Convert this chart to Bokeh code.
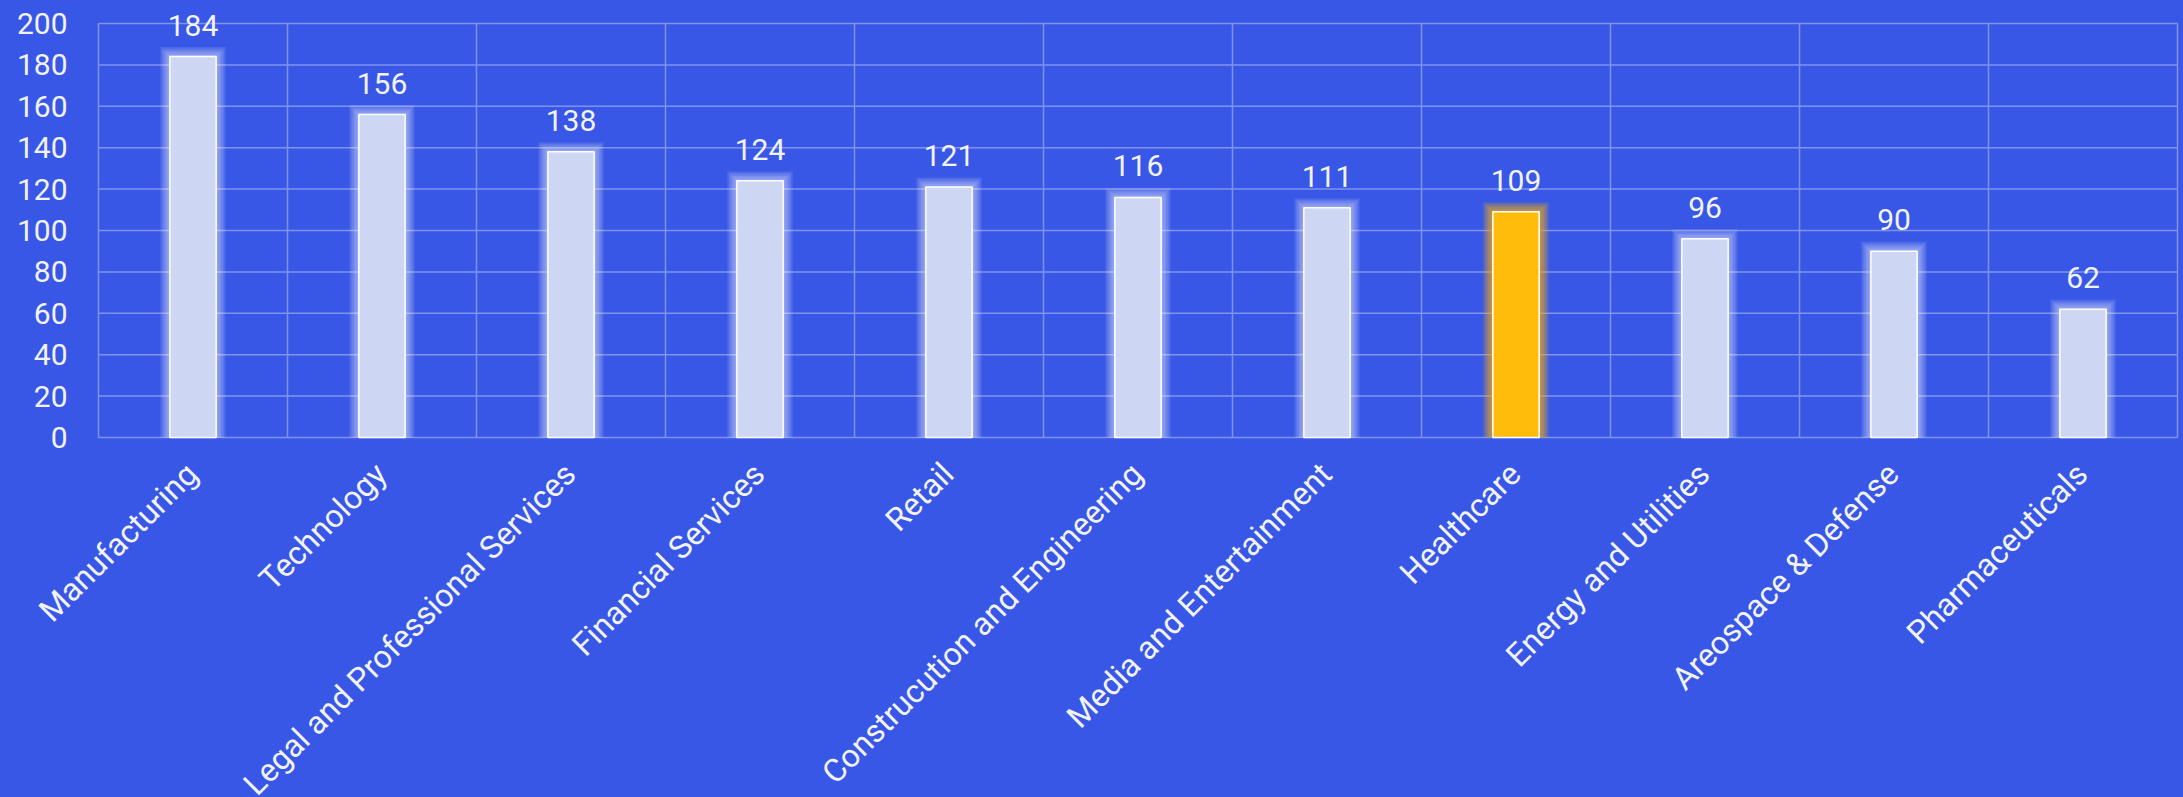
import numpy as np
from bokeh.plotting import figure
from bokeh.models import ColumnDataSource, Range1d, LabelSet
from bokeh.core.properties import value
from bokeh.embed import file_html
from bokeh.resources import INLINE

categories = ["Manufacturing", "Technology", "Legal and Professional Services",
              "Financial Services", "Retail", "Construcution and Engineering",
              "Media and Entertainment", "Healthcare", "Energy and Utilities",
              "Areospace & Defense", "Pharmaceuticals"]
values = [184, 156, 138, 124, 121, 116, 111, 109, 96, 90, 62]
highlight = "Healthcare"
y_ticks = [0, 20, 40, 60, 80, 100, 120, 140, 160, 180, 200]

BG = "#3857E6"
GRID = "#7F93EE"
BAR = "#CDD6F3"
HI = "#FFBC0A"
TXT = "#F2F3FA"
FONT = "Roboto"

# layout (pixels)
W, H = 2183, 797
LEFT, RIGHT = 98, 2177          # plot area left / right edge
Y_TOP, Y_ZERO = 23, 437         # pixel rows of the top tick and of zero
BAR_W = 0.245

n = len(categories)
y_max = y_ticks[-1]
ppx = (RIGHT - LEFT) / n
ppy = (Y_ZERO - Y_TOP) / y_max
x_start = -LEFT / ppx
x_end = n + (W - RIGHT) / ppx
y_end = y_max + Y_TOP / ppy
y_start = -(H - Y_ZERO) / ppy

centers = np.arange(n) + 0.5
bounds = np.arange(n + 1)
vals = np.array(values, dtype=float)
colors = [HI if c == highlight else BAR for c in categories]
glow = ["#FFB000" if c == highlight else "#FFFFFF" for c in categories]
glow_alpha = [0.17 if c == highlight else 0.10 for c in categories]

src = ColumnDataSource(dict(x=centers, top=values, base=[0] * n, color=colors,
                            label=[str(v) for v in values], cat=categories))
tick_src = ColumnDataSource(dict(x=[0] * len(y_ticks), y=y_ticks,
                                 label=[str(t) for t in y_ticks]))

p = figure(width=W, height=H, output_backend="svg", toolbar_location=None,
           x_range=Range1d(x_start, x_end), y_range=Range1d(y_start, y_end),
           x_axis_location=None, y_axis_location=None,
           background_fill_color=BG, border_fill_color=BG,
           min_border_left=0, min_border_right=0,
           min_border_top=0, min_border_bottom=0)
p.outline_line_color = None
p.xgrid.visible = False
p.ygrid.visible = False

# grid lines
p.segment(x0=bounds, y0=[0] * (n + 1), x1=bounds, y1=[y_max] * (n + 1),
          line_color=GRID, line_width=1.5, level="underlay")
p.segment(x0=[0] * len(y_ticks), y0=y_ticks, x1=[n] * len(y_ticks), y1=y_ticks,
          line_color=GRID, line_width=1.5, level="underlay")

# soft glow behind bars
for k in range(1, 7):
    e = 1.6 * k
    p.vbar(x=centers, top=vals + e / ppy, bottom=0, width=BAR_W + 2 * e / ppx,
           fill_color=glow, fill_alpha=glow_alpha, line_color=None)

p.vbar(x="x", top="top", bottom=0, width=BAR_W, source=src, fill_color="color",
       line_color="#FFFFFF", line_width=1.5)

# value labels
p.add_layout(LabelSet(x="x", y="top", text="label", source=src, y_offset=21,
                      text_align="center", text_baseline="alphabetic",
                      text_color=TXT, text_font=value(FONT),
                      text_font_size="30px"))

# y tick labels
p.add_layout(LabelSet(x="x", y="y", text="label", source=tick_src, x_offset=-31,
                      text_align="right", text_baseline="middle",
                      text_color=TXT, text_font=value(FONT),
                      text_font_size="30px"))

# category labels, rotated 45 degrees, ending under each bar
p.add_layout(LabelSet(x="x", y="base", text="cat", source=src, angle=np.pi / 4,
                      x_offset=-1, y_offset=-31, text_align="right",
                      text_baseline="middle", text_color=TXT,
                      text_font=value(FONT), text_font_size="32px"))

html = file_html(p, INLINE)
html = html.replace("<head>", "<head><style>html,body{background:%s;}</style>" % BG, 1)
open("out.html", "w").write(html)
